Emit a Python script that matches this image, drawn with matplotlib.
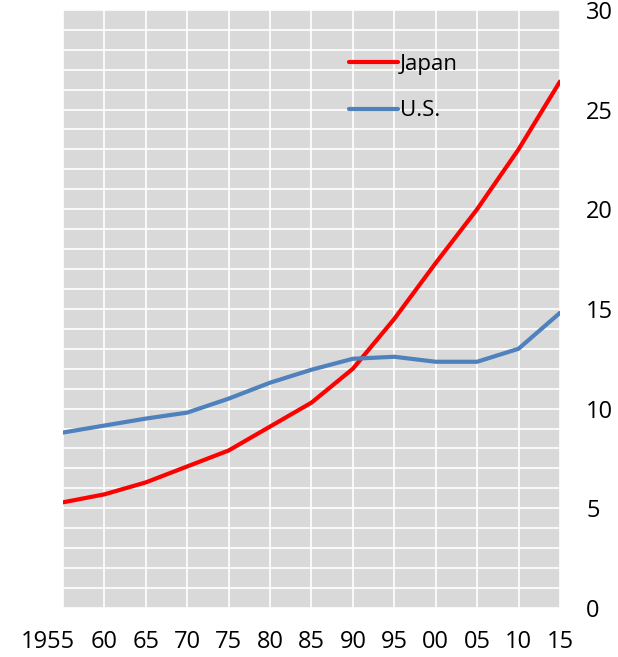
import matplotlib.pyplot as plt
import matplotlib.transforms as mtransforms
import numpy as np

YEARS = [1955, 1960, 1965, 1970, 1975, 1980, 1985, 1990, 1995, 2000, 2005, 2010, 2015]
YEAR_LABELS = ["1955", "60", "65", "70", "75", "80", "85", "90", "95", "00", "05", "10", "15"]
JAPAN = [5.3, 5.7, 6.3, 7.1, 7.9, 9.1, 10.3, 12.0, 14.5, 17.3, 20.0, 23.0, 26.4]
US = [8.8, 9.15, 9.5, 9.8, 10.5, 11.3, 11.95, 12.5, 12.6, 12.35, 12.35, 13.0, 14.8]

C_JP = "#FF0000"
C_US = "#4F81BD"

plt.rcParams.update({"font.family": ["Open Sans", "DejaVu Sans"]})

fig = plt.figure(figsize=(6.18, 6.57), dpi=100)
ax = fig.add_axes([0.102, 0.0746, 0.804, 0.9104])
ax.set_facecolor("#D9D9D9")

ax.plot(YEARS, JAPAN, color=C_JP, lw=3, label="Japan", solid_capstyle="round")
ax.plot(YEARS, US, color=C_US, lw=3, label="U.S.", solid_capstyle="round")

ax.set_xlim(1955, 2015)
ax.set_ylim(0, 30)
ax.set_xticks(YEARS)
ax.set_xticklabels(YEAR_LABELS)
ax.set_yticks(np.arange(0, 31, 5))
ax.set_yticks(np.arange(0, 31, 1), minor=True)

ax.yaxis.tick_right()
ax.tick_params(axis="y", which="both", length=0, pad=19, labelsize=17)
ax.tick_params(axis="x", length=0, pad=16, labelsize=17)
for lab in ax.get_yticklabels():
    lab.set_horizontalalignment("left")

# shift the first year label left, as in the original
first = ax.get_xticklabels()[0]
first.set_transform(first.get_transform() +
                    mtransforms.ScaledTranslation(-15 / 100, 0, fig.dpi_scale_trans))

ax.grid(which="both", axis="y", color="white", lw=1.2)
ax.grid(which="major", axis="x", color="white", lw=1.2)
ax.set_axisbelow(True)
for s in ax.spines.values():
    s.set_visible(False)

ax.legend(loc="upper left", bbox_to_anchor=(0.535, 0.96), frameon=False,
          fontsize=16, handlelength=2.2, handletextpad=0.1, labelspacing=1.15)

fig.savefig("out.png", dpi=100)
